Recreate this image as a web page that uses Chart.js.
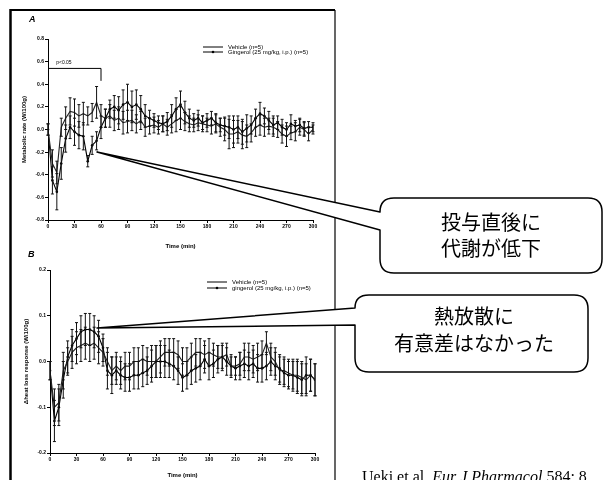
<!DOCTYPE html>
<html>
<head>
<meta charset="utf-8">
<script src="https://cdn.jsdelivr.net/npm/chart.js@4.4.1/dist/chart.umd.min.js"></script>
<style>
html,body{margin:0;padding:0;background:#fff;}
#wrap{position:relative;width:603px;height:480px;overflow:hidden;background:#fff;}
canvas{position:absolute;left:0;}
#cA{top:0;}
#cB{top:250px;}
svg{position:absolute;left:0;top:0;z-index:2;}
.panel{position:absolute;z-index:3;font:italic bold 9px "Liberation Sans",Arial,sans-serif;color:#000;}
.ja{position:absolute;z-index:3;font:20px "Noto Sans CJK JP",sans-serif;text-align:center;color:#000;white-space:nowrap;}
.cite{position:absolute;z-index:3;left:362px;top:469px;font:16px/16px "Liberation Serif",serif;white-space:nowrap;color:#000;}
</style>
</head>
<body>
<div id="wrap">
  <canvas id="cA" width="335" height="250"></canvas>
  <canvas id="cB" width="335" height="230"></canvas>
  <svg width="603" height="480" viewBox="0 0 603 480">
    <!-- figure frame -->
    <line x1="10.5" y1="9" x2="10.5" y2="480" stroke="#000" stroke-width="2.5"/>
    <line x1="10" y1="10" x2="335" y2="10" stroke="#000" stroke-width="2"/>
    <line x1="335" y1="10" x2="335" y2="480" stroke="#000" stroke-width="1.2"/>
    <!-- speech balloons -->
    <path d="M97 152 L380 212 Q380 198 394 198 L588 198 Q602 198 602 212 L602 259 Q602 273 588 273 L394 273 Q380 273 380 259 L380 230 Z"
          fill="#fff" stroke="#000" stroke-width="1.5" stroke-linejoin="round"/>
    <path d="M97 328 L355 308 Q355 295 369 295 L574 295 Q588 295 588 309 L588 358 Q588 372 574 372 L369 372 Q355 372 355 358 L355 325 Z"
          fill="#fff" stroke="#000" stroke-width="1.5" stroke-linejoin="round"/>
  </svg>
  <div class="panel" style="left:29px;top:14px;">A</div>
  <div class="panel" style="left:28px;top:249px;">B</div>
  <div class="ja" style="left:391px;top:209px;width:200px;line-height:26px;">投与直後に<br>代謝が低下</div>
  <div class="ja" style="left:374px;top:302px;width:200px;line-height:27px;">熱放散に<br>有意差はなかった</div>
  <div class="cite">Ueki et al. <i>Eur J Pharmacol</i> 584: 8</div>
</div>
<script>
// Sampling times (min)
const times = [0,5,10,15,20,25,30,35,40,45,50,55,60,65,70,75,80,85,90,95,100,105,110,115,120,125,130,135,140,145,150,155,160,165,170,175,180,185,190,195,200,205,210,215,220,225,230,235,240,245,250,255,260,265,270,275,280,285,290,295,300];

// Panel A: metabolic rate (W/100g), mean and SEM
const vehicleA = [0.00,-0.30,-0.38,0.02,0.10,0.16,0.15,0.12,0.14,0.12,0.15,0.24,0.12,0.10,0.12,0.08,0.10,0.06,0.07,0.08,0.05,0.08,0.02,0.03,0.04,0.02,0.05,0.02,0.05,0.08,0.10,0.07,0.05,0.04,0.06,0.05,0.04,0.03,0.05,0.02,0.00,-0.04,-0.04,-0.02,-0.05,-0.06,-0.03,0.02,0.04,0.02,0.03,0.02,0.00,-0.04,-0.06,-0.03,-0.02,0.02,0.00,-0.04,0.00];
const vehicleAErr = [0.05,0.12,0.10,0.08,0.10,0.12,0.12,0.10,0.10,0.08,0.08,0.14,0.10,0.08,0.10,0.09,0.10,0.10,0.10,0.09,0.08,0.08,0.08,0.07,0.07,0.06,0.07,0.07,0.08,0.10,0.10,0.08,0.07,0.06,0.07,0.07,0.06,0.07,0.08,0.08,0.10,0.13,0.12,0.10,0.12,0.10,0.08,0.08,0.09,0.08,0.07,0.08,0.07,0.08,0.09,0.06,0.08,0.07,0.06,0.06,0.04];
const gingerolA = [0.00,-0.45,-0.55,-0.30,-0.08,0.02,-0.02,-0.05,-0.06,-0.28,-0.14,-0.10,0.02,0.10,0.18,0.20,0.17,0.22,0.24,0.20,0.22,0.18,0.12,0.10,0.08,0.06,0.05,0.07,0.12,0.18,0.22,0.15,0.10,0.08,0.10,0.06,0.08,0.10,0.06,0.04,0.03,0.02,0.00,0.02,-0.02,0.01,0.04,0.10,0.14,0.12,0.08,0.04,0.06,0.02,0.00,0.05,0.03,0.04,0.01,0.02,0.02];
const gingerolAErr = [0.05,0.12,0.16,0.14,0.12,0.10,0.12,0.12,0.12,0.05,0.08,0.08,0.10,0.08,0.08,0.10,0.12,0.13,0.16,0.14,0.13,0.12,0.10,0.07,0.06,0.06,0.07,0.08,0.10,0.10,0.12,0.10,0.08,0.06,0.07,0.06,0.06,0.06,0.08,0.06,0.08,0.10,0.12,0.10,0.11,0.12,0.08,0.08,0.10,0.07,0.08,0.08,0.06,0.07,0.06,0.08,0.05,0.06,0.06,0.05,0.04];

// Panel B: heat loss response (W/100g), mean and SEM
const vehicleB = [-0.02,-0.10,-0.09,-0.02,0.00,0.02,0.03,0.035,0.04,0.035,0.04,0.03,0.02,0.00,-0.02,-0.01,-0.02,-0.01,-0.01,0.00,0.00,0.005,0.00,0.00,0.00,0.01,0.02,0.02,0.02,0.015,0.00,0.00,0.01,0.02,0.02,0.015,0.02,0.015,0.01,0.01,0.015,-0.01,-0.01,-0.005,0.01,0.01,0.005,0.01,0.015,0.04,0.01,0.00,-0.02,-0.02,-0.025,-0.03,-0.03,-0.035,-0.04,-0.03,-0.04];
const vehicleBErr = [0.02,0.04,0.04,0.04,0.03,0.035,0.035,0.035,0.035,0.035,0.035,0.035,0.03,0.03,0.03,0.03,0.03,0.03,0.03,0.03,0.03,0.03,0.03,0.035,0.035,0.035,0.03,0.03,0.03,0.03,0.03,0.03,0.03,0.03,0.03,0.03,0.03,0.025,0.025,0.025,0.025,0.02,0.02,0.025,0.03,0.03,0.03,0.03,0.03,0.025,0.03,0.03,0.03,0.03,0.03,0.03,0.035,0.035,0.035,0.035,0.035];
const gingerolB = [-0.02,-0.13,-0.10,-0.04,0.01,0.035,0.05,0.065,0.07,0.07,0.065,0.055,0.03,-0.02,-0.03,-0.02,-0.03,-0.035,-0.035,-0.03,-0.03,-0.025,-0.02,-0.01,0.00,0.00,0.00,-0.005,-0.01,-0.02,-0.035,-0.03,-0.02,-0.015,-0.01,0.005,-0.01,-0.005,0.005,0.01,0.00,-0.01,-0.015,-0.01,-0.005,-0.01,-0.005,-0.015,-0.015,-0.01,0.00,-0.01,-0.015,-0.025,-0.03,-0.03,-0.035,-0.04,-0.03,-0.03,-0.04];
const gingerolBErr = [0.02,0.045,0.04,0.04,0.035,0.035,0.035,0.035,0.035,0.035,0.035,0.035,0.03,0.04,0.04,0.03,0.03,0.03,0.03,0.03,0.03,0.03,0.03,0.035,0.035,0.035,0.035,0.03,0.03,0.03,0.03,0.03,0.03,0.03,0.03,0.03,0.03,0.03,0.03,0.03,0.03,0.025,0.025,0.03,0.03,0.03,0.03,0.03,0.03,0.03,0.03,0.03,0.03,0.03,0.03,0.035,0.035,0.035,0.04,0.035,0.035];

// Axis tick settings
const xTicks = {min: 0, max: 300, step: 30};
const yTicksA = {min: -0.8, max: 0.8, step: 0.2};
const yTicksB = {min: -0.2, max: 0.2, step: 0.1};

const pts = vals => vals.map((v, i) => ({x: times[i], y: v}));
const fmt1 = v => (Math.abs(v) < 1e-9 ? 0 : v).toFixed(1);

// Vertical SEM whiskers with short caps
const errorBars = {
  id: 'errorBars',
  afterDatasetsDraw(chart) {
    const {ctx, scales: {x, y}} = chart;
    ctx.save();
    ctx.strokeStyle = '#111';
    ctx.lineWidth = 1;
    chart.data.datasets.forEach(ds => {
      ds.data.forEach((p, i) => {
        const e = ds.errors[i];
        const px = x.getPixelForValue(p.x);
        const y1 = y.getPixelForValue(p.y + e);
        const y2 = y.getPixelForValue(p.y - e);
        ctx.beginPath();
        ctx.moveTo(px, y1); ctx.lineTo(px, y2);
        ctx.moveTo(px - 1.5, y1); ctx.lineTo(px + 1.5, y1);
        ctx.moveTo(px - 1.5, y2); ctx.lineTo(px + 1.5, y2);
        ctx.stroke();
      });
    });
    ctx.restore();
  }
};

// Small in-plot legend
const miniLegend = {
  id: 'miniLegend',
  afterDraw(chart, args, opts) {
    const {ctx} = chart;
    ctx.save();
    ctx.font = '6px "Liberation Sans", Arial, sans-serif';
    ctx.fillStyle = '#000';
    ctx.strokeStyle = '#000';
    ctx.lineWidth = 1;
    ctx.textBaseline = 'middle';
    chart.data.datasets.forEach((ds, i) => {
      const yy = opts.y + i * opts.gap;
      ctx.beginPath();
      ctx.moveTo(opts.x, yy); ctx.lineTo(opts.x + opts.len, yy);
      ctx.stroke();
      if (ds.pointRadius > 0) {
        ctx.beginPath();
        ctx.arc(opts.x + opts.len / 2, yy, 1.3, 0, Math.PI * 2);
        ctx.fill();
      }
      ctx.fillText(ds.label, opts.x + opts.len + 5, yy);
    });
    ctx.restore();
  }
};

// Significance bracket over the first hour
const sigBracket = {
  id: 'sigBracket',
  afterDraw(chart, args, opts) {
    if (!opts.show) return;
    const {ctx, scales: {x, y}} = chart;
    const x0 = x.getPixelForValue(opts.from), x1 = x.getPixelForValue(opts.to);
    const yTop = y.getPixelForValue(opts.level), yEnd = y.getPixelForValue(opts.drop);
    ctx.save();
    ctx.strokeStyle = '#000';
    ctx.lineWidth = 1;
    ctx.beginPath();
    ctx.moveTo(x0, yTop); ctx.lineTo(x1, yTop); ctx.lineTo(x1, yEnd);
    ctx.stroke();
    ctx.font = '5px "Liberation Sans", Arial, sans-serif';
    ctx.fillStyle = '#000';
    ctx.textAlign = 'center';
    ctx.textBaseline = 'bottom';
    ctx.fillText(opts.text, x.getPixelForValue(opts.textAt), yTop - 3);
    ctx.restore();
  }
};

function makeChart(id, cfg) {
  const tickFont = {family: '"Liberation Sans", Arial, sans-serif', size: 5, weight: 'bold'};
  const titleFont = {family: '"Liberation Sans", Arial, sans-serif', size: 6, weight: 'bold'};
  return new Chart(document.getElementById(id), {
    type: 'line',
    data: {
      datasets: [
        {label: cfg.labels[0], data: pts(cfg.veh), errors: cfg.vehErr,
         borderColor: '#222', borderWidth: 1.1, pointRadius: 0, tension: 0},
        {label: cfg.labels[1], data: pts(cfg.ging), errors: cfg.gingErr,
         borderColor: '#000', borderWidth: 1.1, pointRadius: 1.3,
         pointBackgroundColor: '#000', pointBorderWidth: 0, tension: 0}
      ]
    },
    options: {
      responsive: false,
      animation: false,
      events: [],
      layout: {padding: cfg.padding},
      plugins: {
        legend: {display: false},
        tooltip: {enabled: false},
        miniLegend: cfg.legend,
        sigBracket: cfg.bracket
      },
      scales: {
        x: {
          type: 'linear', min: xTicks.min, max: xTicks.max,
          afterFit: s => { s.height = cfg.xHeight; },
          ticks: {stepSize: xTicks.step, font: tickFont, color: '#000', padding: 1},
          grid: {drawOnChartArea: false, drawTicks: true, tickLength: 3, color: '#000'},
          border: {display: true, color: '#000', width: 1},
          title: {display: true, text: 'Time (min)', font: titleFont, color: '#000',
                  padding: {top: 0, bottom: cfg.xTitlePad}}
        },
        y: {
          min: cfg.yTicks.min, max: cfg.yTicks.max,
          afterFit: s => { s.width = cfg.yWidth; },
          ticks: {stepSize: cfg.yTicks.step, font: tickFont, color: '#000', padding: 1,
                  callback: v => fmt1(v)},
          grid: {drawOnChartArea: false, drawTicks: true, tickLength: 3, color: '#000'},
          border: {display: true, color: '#000', width: 1},
          title: {display: true, text: cfg.yTitle, font: titleFont, color: '#000',
                  padding: {top: cfg.yTitlePad, bottom: 0}}
        }
      }
    },
    plugins: [errorBars, miniLegend, sigBracket]
  });
}

makeChart('cA', {
  labels: ['Vehicle (n=5)', 'Gingerol (25 mg/kg, i.p.) (n=5)'],
  veh: vehicleA, vehErr: vehicleAErr, ging: gingerolA, gingErr: gingerolAErr,
  yTicks: yTicksA,
  yTitle: 'Metabolic rate (W/100g)',
  padding: {left: 0, top: 39, right: 22, bottom: 0},
  xHeight: 30, yWidth: 48, xTitlePad: 0, yTitlePad: 21,
  legend: {x: 203, y: 47, gap: 5, len: 20},
  bracket: {show: true, from: 0, to: 60, level: 0.54, drop: 0.43, textAt: 18, text: 'p<0.05'}
});

makeChart('cB', {
  labels: ['Vehicle (n=5)', 'gingerol (25 mg/kg, i.p.) (n=5)'],
  veh: vehicleB, vehErr: vehicleBErr, ging: gingerolB, gingErr: gingerolBErr,
  yTicks: yTicksB,
  yTitle: '\u0394heat loss response (W/100g)',
  padding: {left: 0, top: 20, right: 20, bottom: 0},
  xHeight: 27, yWidth: 50, xTitlePad: 1.4, yTitlePad: 23,
  legend: {x: 207, y: 32, gap: 6, len: 20},
  bracket: {show: false}
});
</script>
</body>
</html>
